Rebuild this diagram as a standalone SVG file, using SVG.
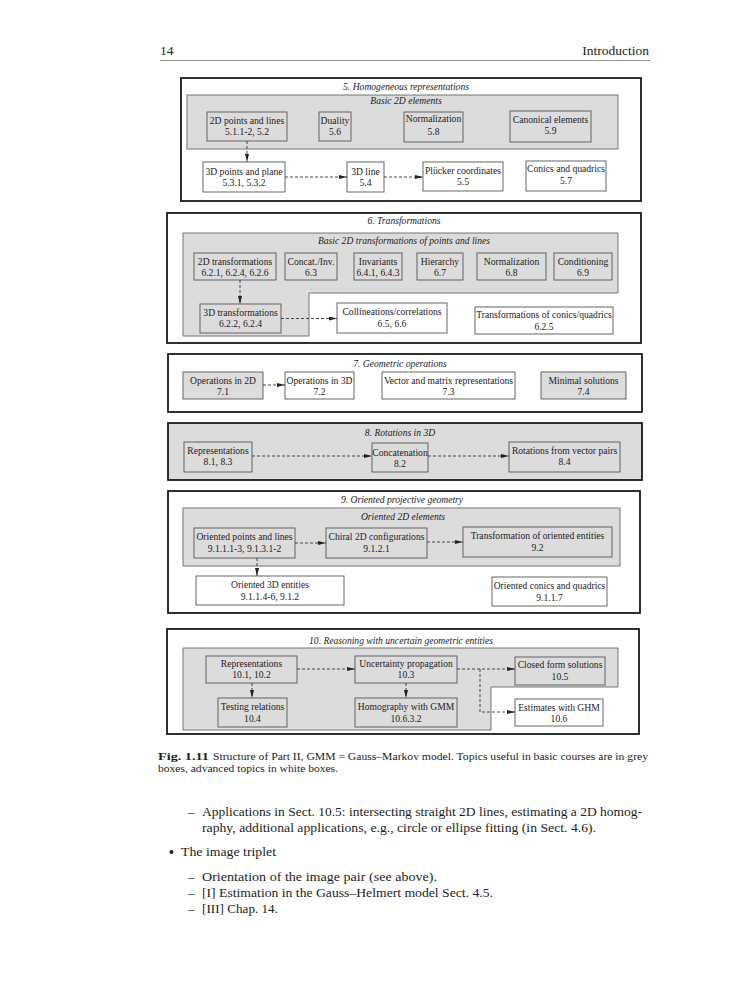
<svg xmlns="http://www.w3.org/2000/svg" width="752" height="1000" viewBox="0 0 752 1000">
<style>
text{font-family:"Liberation Serif","Times New Roman",serif;fill:#222}
.n text{font-size:9.6px;text-anchor:middle}
.n rect{stroke:#555;stroke-width:0.9}
.g rect{fill:#dcdcdc}
.w rect{fill:#fff}
.sec{fill:#fff;stroke:#1a1a1a;stroke-width:1.8}
.secg{fill:#dcdcdc;stroke:#1a1a1a;stroke-width:1.8}
.area{fill:#dcdcdc;stroke:#666;stroke-width:0.9}
.t{font-size:9.6px;font-style:italic;text-anchor:middle}
.c path{fill:none;stroke:#333;stroke-width:0.9;stroke-dasharray:3,2;marker-end:url(#ah)}
.body{font-size:13px}
.cap{font-size:10.2px}
</style>
<defs>
<marker id="ah" viewBox="0 0 8 4" refX="8" refY="2" markerWidth="8" markerHeight="4" markerUnits="userSpaceOnUse" orient="auto">
<path d="M0,0 L8,2 L0,4 Z" fill="#222"/>
</marker>
</defs>
<rect width="752" height="1000" fill="#fff"/>
<g id="header">
<text x="160" y="55" style="font-size:13.5px">14</text>
<text x="649" y="55" style="font-size:13.5px;text-anchor:end">Introduction</text>
<line x1="160" y1="60.5" x2="650" y2="60.5" stroke="#777" stroke-width="0.8"/>
</g>

<!-- Section 5 -->
<g id="sec5">
<rect class="sec" x="181" y="78" width="460" height="123"/>
<text class="t" x="406" y="89.5">5. Homogeneous representations</text>
<rect class="area" x="187" y="95" width="431" height="54"/>
<text class="t" x="406" y="104">Basic 2D elements</text>
</g>
<g id="n5_1" class="n g"><rect x="207" y="112" width="80" height="29"/><text x="247" y="124">2D points and lines</text><text x="247" y="135">5.1.1-2, 5.2</text></g>
<g id="n5_6" class="n g"><rect x="319" y="112" width="32" height="29"/><text x="335" y="124">Duality</text><text x="335" y="135">5.6</text></g>
<g id="n5_8" class="n g"><rect x="404" y="112" width="59" height="30"/><text x="433.5" y="122">Normalization</text><text x="433.5" y="135">5.8</text></g>
<g id="n5_9" class="n g"><rect x="510" y="111" width="81" height="31"/><text x="550.5" y="123">Canonical elements</text><text x="550.5" y="133.5">5.9</text></g>
<g id="n5_3" class="n w"><rect x="203" y="162" width="82" height="30"/><text x="244" y="174.5">3D points and plane</text><text x="244" y="185.5">5.3.1, 5.3.2</text></g>
<g id="n5_4" class="n w"><rect x="347" y="162" width="37" height="30"/><text x="365.5" y="174.5">3D line</text><text x="365.5" y="185.5">5.4</text></g>
<g id="n5_5" class="n w"><rect x="423" y="162" width="80" height="29"/><text x="463" y="174">Plücker coordinates</text><text x="463" y="185">5.5</text></g>
<g id="n5_7" class="n w"><rect x="526" y="161" width="80" height="30"/><text x="566" y="172">Conics and quadrics</text><text x="566" y="184">5.7</text></g>

<!-- Section 6 -->
<g id="sec6">
<rect class="sec" x="167" y="213" width="474" height="130"/>
<text class="t" x="404" y="223.5">6. Transformations</text>
<path class="area" d="M183,233 H618 V293 H309 V336 H183 Z"/>
<text class="t" x="404" y="243.5">Basic 2D transformations of points and lines</text>
</g>
<g id="n6_2" class="n g"><rect x="194" y="253" width="82" height="27"/><text x="235" y="264.5">2D transformations</text><text x="235" y="275.5">6.2.1, 6.2.4, 6.2.6</text></g>
<g id="n6_3" class="n g"><rect x="285" y="253" width="52" height="27"/><text x="311" y="264.5">Concat./Inv.</text><text x="311" y="275.5">6.3</text></g>
<g id="n6_4" class="n g"><rect x="354" y="253" width="48" height="27"/><text x="378" y="264.5">Invariants</text><text x="378" y="275.5">6.4.1, 6.4.3</text></g>
<g id="n6_7" class="n g"><rect x="417" y="253" width="46" height="27"/><text x="440" y="264.5">Hierarchy</text><text x="440" y="275.5">6.7</text></g>
<g id="n6_8" class="n g"><rect x="477" y="253" width="69" height="27"/><text x="511.5" y="264.5">Normalization</text><text x="511.5" y="275.5">6.8</text></g>
<g id="n6_9" class="n g"><rect x="554" y="253" width="58" height="27"/><text x="583" y="264.5">Conditioning</text><text x="583" y="275.5">6.9</text></g>
<g id="n6_22" class="n g"><rect x="200" y="304" width="81" height="29"/><text x="240.5" y="316">3D transformations</text><text x="240.5" y="327">6.2.2, 6.2.4</text></g>
<g id="n6_5" class="n w"><rect x="337" y="303" width="110" height="30"/><text x="392" y="315">Collineations/correlations</text><text x="392" y="327">6.5, 6.6</text></g>
<g id="n6_25" class="n w"><rect x="475" y="307" width="138" height="27"/><text x="544" y="318">Transformations of conics/quadrics</text><text x="544" y="329.5">6.2.5</text></g>

<!-- Section 7 -->
<g id="sec7">
<rect class="sec" x="168" y="354" width="474" height="58"/>
<text class="t" x="400" y="366.5">7. Geometric operations</text>
</g>
<g id="n7_1" class="n g"><rect x="183" y="372" width="80" height="27"/><text x="223" y="383.5">Operations in 2D</text><text x="223" y="394.5">7.1</text></g>
<g id="n7_2" class="n w"><rect x="285" y="372" width="69" height="27"/><text x="319.5" y="383.5">Operations in 3D</text><text x="319.5" y="394.5">7.2</text></g>
<g id="n7_3" class="n w"><rect x="382" y="372" width="133" height="27"/><text x="448.5" y="383.5">Vector and matrix representations</text><text x="448.5" y="394.5">7.3</text></g>
<g id="n7_4" class="n g"><rect x="541" y="372" width="85" height="27"/><text x="583.5" y="383.5">Minimal solutions</text><text x="583.5" y="394.5">7.4</text></g>

<!-- Section 8 -->
<g id="sec8">
<rect class="secg" x="168" y="423" width="474" height="57"/>
<text class="t" x="400" y="435.5">8. Rotations in 3D</text>
</g>
<g id="n8_1" class="n g"><rect x="184" y="442" width="68" height="30"/><text x="218" y="454">Representations</text><text x="218" y="465">8.1, 8.3</text></g>
<g id="n8_2" class="n g"><rect x="372" y="443" width="56" height="29"/><text x="400" y="455.5">Concatenation</text><text x="400" y="467">8.2</text></g>
<g id="n8_4" class="n g"><rect x="509" y="442" width="111" height="30"/><text x="564.5" y="454">Rotations from vector pairs</text><text x="564.5" y="465">8.4</text></g>

<!-- Section 9 -->
<g id="sec9">
<rect class="sec" x="168" y="491" width="472" height="122"/>
<text class="t" x="402" y="502.5">9. Oriented projective geometry</text>
<rect class="area" x="183" y="508" width="437" height="58"/>
<text class="t" x="403" y="519.5">Oriented 2D elements</text>
</g>
<g id="n9_1" class="n g"><rect x="194" y="528" width="101" height="30"/><text x="244.5" y="540">Oriented points and lines</text><text x="244.5" y="551.5">9.1.1.1-3, 9.1.3.1-2</text></g>
<g id="n9_2" class="n g"><rect x="326" y="528" width="101" height="30"/><text x="376.5" y="540">Chiral 2D configurations</text><text x="376.5" y="551.5">9.1.2.1</text></g>
<g id="n9_3" class="n g"><rect x="463" y="527" width="149" height="30"/><text x="537.5" y="539">Transformation of oriented entities</text><text x="537.5" y="550.5">9.2</text></g>
<g id="n9_4" class="n w"><rect x="196" y="576" width="148" height="29"/><text x="270" y="588">Oriented 3D entities</text><text x="270" y="599.5">9.1.1.4-6, 9.1.2</text></g>
<g id="n9_5" class="n w"><rect x="492" y="577" width="115" height="29"/><text x="549.5" y="589">Oriented conics and quadrics</text><text x="549.5" y="600.5">9.1.1.7</text></g>

<!-- Section 10 -->
<g id="sec10">
<rect class="sec" x="167" y="629" width="472" height="105"/>
<text class="t" x="401" y="643.5">10. Reasoning with uncertain geometric entities</text>
<path class="area" d="M183,648 H618 V687 H491 V730 H183 Z"/>
</g>
<g id="n10_1" class="n g"><rect x="206" y="656" width="91" height="27"/><text x="251.5" y="666.5">Representations</text><text x="251.5" y="678">10.1, 10.2</text></g>
<g id="n10_3" class="n g"><rect x="355" y="656" width="102" height="27"/><text x="406" y="666.5">Uncertainty propagation</text><text x="406" y="678">10.3</text></g>
<g id="n10_5" class="n g"><rect x="515" y="657" width="90" height="28"/><text x="560" y="667.5">Closed form solutions</text><text x="560" y="679.5">10.5</text></g>
<g id="n10_4" class="n g"><rect x="218" y="698" width="69" height="29"/><text x="252.5" y="710">Testing relations</text><text x="252.5" y="721.5">10.4</text></g>
<g id="n10_63" class="n g"><rect x="355" y="698" width="102" height="29"/><text x="406" y="710">Homography with GMM</text><text x="406" y="721.5">10.6.3.2</text></g>
<g id="n10_6" class="n w"><rect x="515" y="699" width="88" height="27"/><text x="559" y="710.5">Estimates with GHM</text><text x="559" y="721.5">10.6</text></g>

<g id="connectors" class="c">
<path d="M247,141 V162"/>
<path d="M285,177 H347"/>
<path d="M384,177 H423"/>
<path d="M240,280 V304"/>
<path d="M281,318.5 H337"/>
<path d="M263,385 H285"/>
<path d="M252,456 H372"/>
<path d="M428,456 H509"/>
<path d="M257,558 V576"/>
<path d="M295,543 H326"/>
<path d="M427,542 H463"/>
<path d="M297,669 H355"/>
<path d="M252,683 V698"/>
<path d="M406,683 V698"/>
<path d="M457,669 H515"/>
<path d="M480,669 V712 H515"/>
</g>

<g id="caption">
<text class="cap" x="158" y="759.5" font-weight="bold" textLength="51" lengthAdjust="spacingAndGlyphs">Fig. 1.11</text>
<text class="cap" x="213" y="759.5" textLength="435" lengthAdjust="spacingAndGlyphs">Structure of Part II, GMM = Gauss–Markov model. Topics useful in basic courses are in grey</text>
<text class="cap" x="158" y="772" textLength="180" lengthAdjust="spacingAndGlyphs">boxes, advanced topics in white boxes.</text>
</g>

<g id="bodytext">
<text class="body" x="188" y="816">–</text>
<text class="body" x="202" y="816" textLength="440" lengthAdjust="spacingAndGlyphs">Applications in Sect. 10.5: intersecting straight 2D lines, estimating a 2D homog-</text>
<text class="body" x="202" y="832" textLength="394" lengthAdjust="spacingAndGlyphs">raphy, additional applications, e.g., circle or ellipse fitting (in Sect. 4.6).</text>
<circle cx="171.5" cy="852" r="2" fill="#222"/>
<text class="body" x="181" y="856" textLength="95" lengthAdjust="spacingAndGlyphs">The image triplet</text>
<text class="body" x="188" y="881">–</text>
<text class="body" x="202" y="881" textLength="235" lengthAdjust="spacingAndGlyphs">Orientation of the image pair (see above).</text>
<text class="body" x="188" y="897">–</text>
<text class="body" x="202" y="897" textLength="291" lengthAdjust="spacingAndGlyphs">[I] Estimation in the Gauss–Helmert model Sect. 4.5.</text>
<text class="body" x="188" y="913">–</text>
<text class="body" x="202" y="913" textLength="76" lengthAdjust="spacingAndGlyphs">[III] Chap. 14.</text>
</g>
</svg>
